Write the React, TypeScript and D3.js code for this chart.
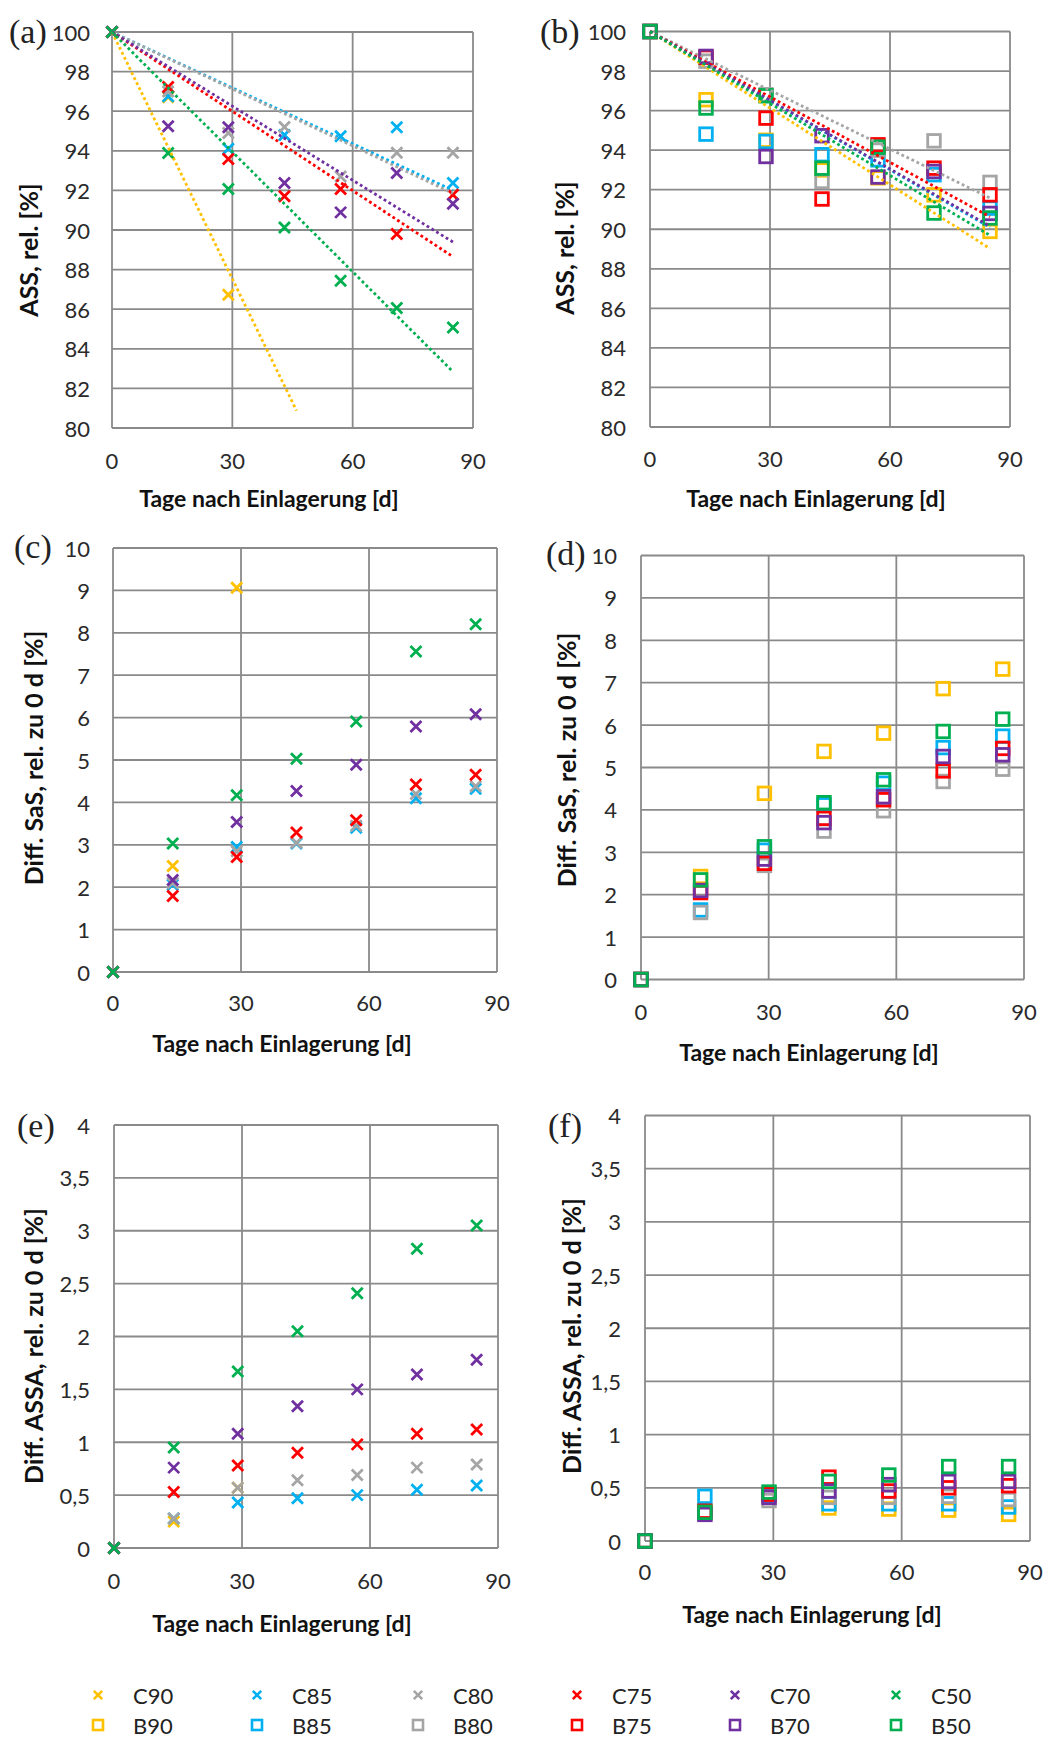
import React from "react";
import * as d3 from "d3";

// ---------- data ----------
const DAYS = [0, 14, 29, 43, 57, 71, 85];
const C_NAMES = ["C90", "C85", "C80", "C75", "C70", "C50"];
const B_NAMES = ["B90", "B85", "B80", "B75", "B70", "B50"];
const COLORS = ["#FFC000", "#00B0F0", "#A5A5A5", "#FF0000", "#7030A0", "#00B050"];
const X_TICKS = [0, 30, 60, 90];

// (a) ASS rel. [%], C series
const ASS_C90 = [100, 96.7, 86.73, null, null, null, null];
const ASS_C85 = [100, 96.75, 94.1, 94.8, 94.73, 95.19, 92.37];
const ASS_C80 = [100, 97.0, 94.9, 95.2, 92.7, 93.9, 93.9];
const ASS_C75 = [100, 97.22, 93.59, 91.7, 92.07, 89.8, 91.78];
const ASS_C70 = [100, 95.24, 95.19, 92.37, 90.89, 92.88, 91.33];
const ASS_C50 = [100, 93.89, 92.07, 90.13, 87.44, 86.06, 85.08];
const ASS_C_TREND_END = [46, 85, 85, 85, 85, 85];

// (b) ASS rel. [%], B series
const ASS_B90 = [100, 96.55, 94.5, 93.0, 92.6, 91.74, 89.89];
const ASS_B85 = [100, 94.81, 94.44, 93.77, 93.51, 92.76, 91.07];
const ASS_B80 = [100, 98.5, 96.8, 92.42, 94.0, 94.47, 92.37];
const ASS_B75 = [100, 98.7, 95.62, 91.53, 94.27, 93.09, 91.74];
const ASS_B70 = [100, 98.74, 93.68, 94.73, 92.64, 92.92, 90.8];
const ASS_B50 = [100, 96.13, 96.75, 93.09, 94.15, 90.82, 90.57];
const ASS_B_TREND_END = [85, 85, 85, 85, 85, 85];

// (c) Diff. SaS, C series
const SAS_C90 = [0, 2.5, 9.06, null, null, null, null];
const SAS_C85 = [0, 2.06, 2.95, 3.03, 3.4, 4.1, 4.32];
const SAS_C80 = [0, 2.1, 2.85, 3.05, 3.45, 4.2, 4.38];
const SAS_C75 = [0, 1.79, 2.71, 3.29, 3.58, 4.42, 4.65];
const SAS_C70 = [0, 2.17, 3.54, 4.27, 4.89, 5.79, 6.08];
const SAS_C50 = [0, 3.03, 4.17, 5.03, 5.91, 7.56, 8.2];

// (d) Diff. SaS, B series
const SAS_B90 = [0, 2.43, 4.39, 5.38, 5.81, 6.86, 7.32];
const SAS_B85 = [0, 1.64, 3.05, 4.12, 4.63, 5.47, 5.74];
const SAS_B80 = [0, 1.58, 2.69, 3.5, 3.98, 4.67, 4.96];
const SAS_B75 = [0, 2.05, 2.74, 3.8, 4.24, 4.92, 5.45];
const SAS_B70 = [0, 2.1, 2.84, 3.7, 4.31, 5.26, 5.3];
const SAS_B50 = [0, 2.35, 3.13, 4.17, 4.71, 5.85, 6.14];

// (e) Diff. ASSA, C series
const ASSA_C90 = [0, 0.25, 0.57, null, null, null, null];
const ASSA_C85 = [0, 0.28, 0.43, 0.47, 0.5, 0.55, 0.59];
const ASSA_C80 = [0, 0.28, 0.57, 0.64, 0.69, 0.76, 0.79];
const ASSA_C75 = [0, 0.53, 0.78, 0.9, 0.98, 1.08, 1.12];
const ASSA_C70 = [0, 0.76, 1.08, 1.34, 1.5, 1.64, 1.78];
const ASSA_C50 = [0, 0.95, 1.67, 2.05, 2.41, 2.83, 3.05];

// (f) Diff. ASSA, B series
const ASSA_B90 = [0, 0.27, 0.43, 0.31, 0.3, 0.29, 0.25];
const ASSA_B85 = [0, 0.42, 0.42, 0.35, 0.35, 0.35, 0.32];
const ASSA_B80 = [0, 0.26, 0.38, 0.41, 0.41, 0.42, 0.39];
const ASSA_B75 = [0, 0.28, 0.44, 0.6, 0.47, 0.5, 0.52];
const ASSA_B70 = [0, 0.25, 0.41, 0.47, 0.53, 0.56, 0.56];
const ASSA_B50 = [0, 0.27, 0.46, 0.56, 0.62, 0.7, 0.7];

const Y_TITLE_ASS = "ASS, rel. [%]";
const Y_TITLE_SAS = "Diff. SaS, rel. zu 0 d [%]";
const Y_TITLE_ASSA = "Diff. ASSA, rel. zu 0 d [%]";
const X_TITLE = "Tage nach Einlagerung [d]";

// ---------- layout ----------
const W = 1048;
const H = 1739;
const FONT = "Lato, 'Open Sans', sans-serif";
const GRID = "#8a8a8a";

type Panel = {
  label: string;
  marker: "x" | "sq";
  series: (number | null)[][];
  trendEnd?: number[];
  yDomain: [number, number];
  yStep: number;
  comma: boolean;
  yTitle: string;
  left: number; right: number; top: number; bottom: number;
  labelX: number; labelY: number;
  tickRight: number;
  xTickY: number;
  xTitleX: number; xTitleY: number;
  yTitleX: number; yTitleY: number;
};

const PANELS: Panel[] = [
  {
    label: "(a)", marker: "x",
    series: [ASS_C90, ASS_C85, ASS_C80, ASS_C75, ASS_C70, ASS_C50],
    trendEnd: ASS_C_TREND_END,
    yDomain: [80, 100], yStep: 2, comma: false, yTitle: Y_TITLE_ASS,
    left: 112, right: 473, top: 32, bottom: 428,
    labelX: 9, labelY: 31, tickRight: 90, xTickY: 460,
    xTitleX: 269, xTitleY: 498, yTitleX: 28, yTitleY: 250,
  },
  {
    label: "(b)", marker: "sq",
    series: [ASS_B90, ASS_B85, ASS_B80, ASS_B75, ASS_B70, ASS_B50],
    trendEnd: ASS_B_TREND_END,
    yDomain: [80, 100], yStep: 2, comma: false, yTitle: Y_TITLE_ASS,
    left: 650, right: 1010, top: 31.5, bottom: 427,
    labelX: 540, labelY: 31, tickRight: 626, xTickY: 458,
    xTitleX: 816, xTitleY: 498, yTitleX: 564, yTitleY: 248,
  },
  {
    label: "(c)", marker: "x",
    series: [SAS_C90, SAS_C85, SAS_C80, SAS_C75, SAS_C70, SAS_C50],
    yDomain: [0, 10], yStep: 1, comma: false, yTitle: Y_TITLE_SAS,
    left: 113, right: 497, top: 548, bottom: 972,
    labelX: 14, labelY: 546, tickRight: 90, xTickY: 1002,
    xTitleX: 282, xTitleY: 1043, yTitleX: 33, yTitleY: 758,
  },
  {
    label: "(d)", marker: "sq",
    series: [SAS_B90, SAS_B85, SAS_B80, SAS_B75, SAS_B70, SAS_B50],
    yDomain: [0, 10], yStep: 1, comma: false, yTitle: Y_TITLE_SAS,
    left: 641, right: 1024, top: 555.5, bottom: 979.5,
    labelX: 546, labelY: 553, tickRight: 617, xTickY: 1011,
    xTitleX: 809, xTitleY: 1052, yTitleX: 566, yTitleY: 760,
  },
  {
    label: "(e)", marker: "x",
    series: [ASSA_C90, ASSA_C85, ASSA_C80, ASSA_C75, ASSA_C70, ASSA_C50],
    yDomain: [0, 4], yStep: 0.5, comma: true, yTitle: Y_TITLE_ASSA,
    left: 114, right: 498, top: 1125, bottom: 1548,
    labelX: 17, labelY: 1125, tickRight: 90, xTickY: 1580,
    xTitleX: 282, xTitleY: 1623, yTitleX: 33, yTitleY: 1346,
  },
  {
    label: "(f)", marker: "sq",
    series: [ASSA_B90, ASSA_B85, ASSA_B80, ASSA_B75, ASSA_B70, ASSA_B50],
    yDomain: [0, 4], yStep: 0.5, comma: true, yTitle: Y_TITLE_ASSA,
    left: 645, right: 1030, top: 1115.5, bottom: 1541,
    labelX: 548, labelY: 1125, tickRight: 621, xTickY: 1571,
    xTitleX: 812, xTitleY: 1614, yTitleX: 571, yTitleY: 1336,
  },
];

function crossPath(s: number) {
  return `M${-s},${-s}L${s},${s}M${-s},${s}L${s},${-s}`;
}

function Marker({ kind, color, x, y, big }: { kind: "x" | "sq"; color: string; x: number; y: number; big: boolean }) {
  if (kind === "x") {
    const s = big ? 5.5 : 4.2;
    return <path d={crossPath(s)} transform={`translate(${x},${y})`} stroke={color} strokeWidth={big ? 2.8 : 2.6} fill="none" />;
  }
  const s = big ? 6.3 : 5;
  return <rect x={x - s} y={y - s} width={2 * s} height={2 * s} stroke={color} strokeWidth={big ? 2.8 : 2.6} fill="none" />;
}

function PanelView({ p }: { p: Panel }) {
  const x = d3.scaleLinear().domain([0, 90]).range([p.left, p.right]);
  const y = d3.scaleLinear().domain(p.yDomain).range([p.bottom, p.top]);
  const yTicks = d3.range(p.yDomain[0], p.yDomain[1] + p.yStep / 2, p.yStep);
  const fmt = (v: number) => (p.comma ? String(v).replace(".", ",") : String(v));
  const line = d3.line<[number, number]>().x((d) => x(d[0])).y((d) => y(d[1]));

  const trends = p.trendEnd
    ? p.series.map((vals, i) => {
        const y0 = vals[0] as number;
        let sxy = 0;
        let sxx = 0;
        vals.forEach((v, j) => {
          if (v == null || j === 0) return;
          sxy += DAYS[j] * (v - y0);
          sxx += DAYS[j] * DAYS[j];
        });
        const b = sxy / sxx;
        const end = p.trendEnd![i];
        return line([[0, y0], [end, y0 + b * end]]);
      })
    : [];

  return (
    <g>
      {yTicks.map((t) => (
        <line key={"gy" + t} x1={p.left} x2={p.right} y1={y(t)} y2={y(t)} stroke={GRID} strokeWidth={1.8} />
      ))}
      {X_TICKS.map((t) => (
        <line key={"gx" + t} x1={x(t)} x2={x(t)} y1={p.top} y2={p.bottom} stroke={GRID} strokeWidth={1.8} />
      ))}
      {yTicks.map((t) => (
        <text key={"ty" + t} x={p.tickRight} y={y(t)} textAnchor="end" dominantBaseline="central" fontFamily={FONT} fontSize={22} fill="#2a2a2a">
          {fmt(t)}
        </text>
      ))}
      {X_TICKS.map((t) => (
        <text key={"tx" + t} x={x(t)} y={p.xTickY} textAnchor="middle" dominantBaseline="central" fontFamily={FONT} fontSize={22} fill="#2a2a2a">
          {t}
        </text>
      ))}
      <text x={p.labelX} y={p.labelY} dominantBaseline="central" fontFamily="'Liberation Serif', 'DejaVu Serif', serif" fontSize={34} fill="#222">
        {p.label}
      </text>
      <text x={p.xTitleX} y={p.xTitleY} textAnchor="middle" dominantBaseline="central" fontFamily={FONT} fontWeight="bold" fontSize={23} fill="#111">
        {X_TITLE}
      </text>
      <text
        transform={`translate(${p.yTitleX},${p.yTitleY}) rotate(-90)`}
        textAnchor="middle"
        dominantBaseline="central"
        fontFamily={FONT}
        fontWeight="bold"
        fontSize={25}
        fill="#111"
      >
        {p.yTitle}
      </text>
      {p.series.map((vals, i) =>
        vals.map((v, j) =>
          v == null ? null : <Marker key={`m${i}-${j}`} kind={p.marker} color={COLORS[i]} x={x(DAYS[j])} y={y(v)} big={true} />
        )
      )}
      {trends.map((d, i) => (
        <path key={"tr" + i} d={d || ""} stroke={COLORS[i]} strokeWidth={2.8} strokeDasharray="2.8 2.8" fill="none" />
      ))}
    </g>
  );
}

const LEGEND_X = [98, 257, 418, 577, 735, 896];
const LEGEND_ROWS = [1695, 1725];

export default function App() {
  return (
    <svg width={W} height={H} style={{ position: "absolute", left: 0, top: 0, display: "block" }}>
      <rect x={0} y={0} width={W} height={H} fill="#fff" />
      {PANELS.map((p) => (
        <PanelView key={p.label} p={p} />
      ))}
      {COLORS.map((c, i) => (
        <g key={"lg" + i}>
          <Marker kind="x" color={c} x={LEGEND_X[i]} y={LEGEND_ROWS[0]} big={false} />
          <text x={LEGEND_X[i] + 35} y={LEGEND_ROWS[0]} dominantBaseline="central" fontFamily={FONT} fontSize={22} fill="#222">
            {C_NAMES[i]}
          </text>
          <Marker kind="sq" color={c} x={LEGEND_X[i]} y={LEGEND_ROWS[1]} big={false} />
          <text x={LEGEND_X[i] + 35} y={LEGEND_ROWS[1]} dominantBaseline="central" fontFamily={FONT} fontSize={22} fill="#222">
            {B_NAMES[i]}
          </text>
        </g>
      ))}
    </svg>
  );
}
